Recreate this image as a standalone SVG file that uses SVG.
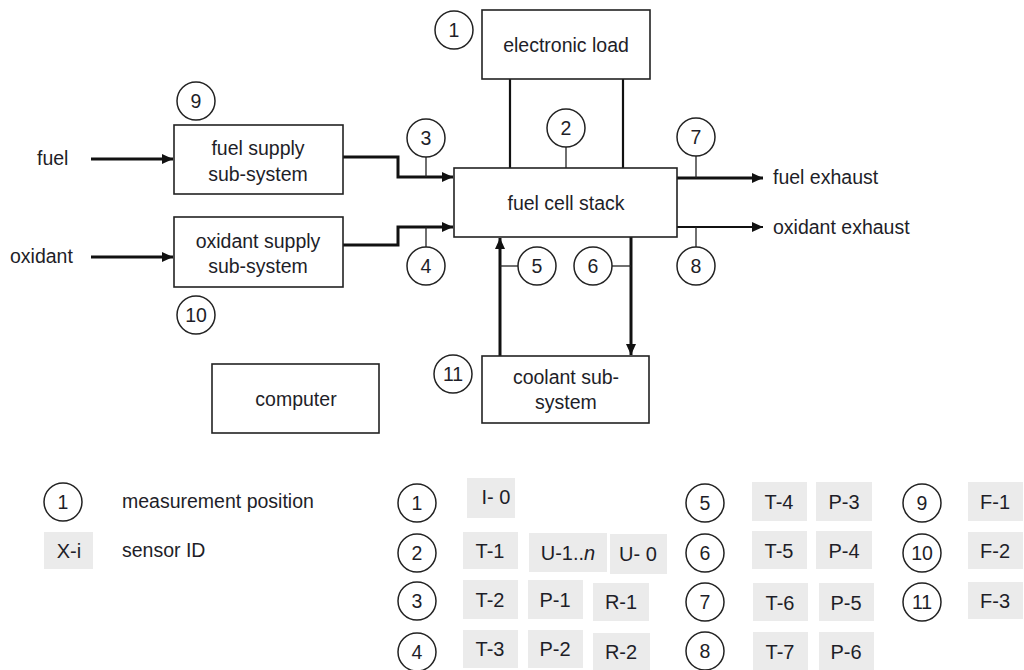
<svg xmlns="http://www.w3.org/2000/svg" width="1024" height="670" viewBox="0 0 1024 670">
<style>
text{font-family:"Liberation Sans",Arial,sans-serif;font-size:19.5px;fill:#1e1e28}
.box{fill:#fff;stroke:#222;stroke-width:1.6}
.c{fill:#fff;stroke:#222;stroke-width:1.5}
.n{font-size:19.5px;text-anchor:middle}
.m{text-anchor:middle}
.g{fill:#ebebeb;stroke:none}
.s{font-size:20px;text-anchor:middle}
.thick{fill:none;stroke:#111;stroke-width:3}
.med{fill:none;stroke:#111;stroke-width:2.2}
.thin{fill:none;stroke:#222;stroke-width:1.3}
</style>
<defs>
<marker id="ah" markerUnits="userSpaceOnUse" markerWidth="12" markerHeight="10" refX="11" refY="5" orient="auto">
<path d="M0,0 L11,5 L0,10 Z" fill="#111"/>
</marker>
</defs>
<g id="connectors">
<path class="thick" d="M91,159 H173" marker-end="url(#ah)"/>
<path class="thick" d="M91,257 H173" marker-end="url(#ah)"/>
<path class="thick" d="M343,157 H398 V177 H453" marker-end="url(#ah)"/>
<path class="thick" d="M343,245 H398 V227 H453" marker-end="url(#ah)"/>
<path class="med" d="M510,79 V168"/>
<path class="med" d="M623,79 V168"/>
<path class="thick" d="M677,178 H763" marker-end="url(#ah)"/>
<path class="med" d="M677,227 H763" marker-end="url(#ah)"/>
<path class="thick" d="M500,356 V238" marker-end="url(#ah)"/>
<path class="thick" d="M631,237 V355" marker-end="url(#ah)"/>
<path class="thin" d="M566,147 V168"/>
<path class="thin" d="M426,157 V177"/>
<path class="thin" d="M426,227 V247"/>
<path class="thin" d="M696,156 V178"/>
<path class="thin" d="M696,227 V247"/>
<path class="thin" d="M500,266 H518"/>
<path class="thin" d="M612,266 H631"/>
</g>
<g id="labels">
<text x="37" y="165">fuel</text>
<text x="10" y="263">oxidant</text>
<text x="773" y="184">fuel exhaust</text>
<text x="773" y="234">oxidant exhaust</text>
</g>
<g id="electronic-load"><rect class="box" x="482" y="10" width="168" height="69"/><text class="m" x="566" y="52">electronic load</text></g>
<g id="fuel-cell-stack"><rect class="box" x="454" y="168" width="223" height="69"/><text class="m" x="566" y="210">fuel cell stack</text></g>
<g id="fuel-supply"><rect class="box" x="174" y="125" width="169" height="69"/><text class="m" x="258" y="155">fuel supply</text><text class="m" x="258" y="181">sub-system</text></g>
<g id="oxidant-supply"><rect class="box" x="174" y="217" width="169" height="70"/><text class="m" x="258" y="248">oxidant supply</text><text class="m" x="258" y="273">sub-system</text></g>
<g id="coolant"><rect class="box" x="482" y="356" width="167" height="67"/><text class="m" x="566" y="384">coolant sub-</text><text class="m" x="566" y="409">system</text></g>
<g id="computer"><rect class="box" x="212" y="364" width="167" height="69"/><text class="m" x="296" y="406">computer</text></g>
<g id="positions">
<g id="p1"><circle class="c" cx="454" cy="30" r="19"/><text class="n" x="454" y="37">1</text></g>
<g id="p2"><circle class="c" cx="566" cy="128" r="19"/><text class="n" x="566" y="135">2</text></g>
<g id="p3"><circle class="c" cx="426" cy="138" r="19"/><text class="n" x="426" y="145">3</text></g>
<g id="p4"><circle class="c" cx="426" cy="266" r="19"/><text class="n" x="426" y="273">4</text></g>
<g id="p5"><circle class="c" cx="537" cy="266" r="19"/><text class="n" x="537" y="273">5</text></g>
<g id="p6"><circle class="c" cx="593" cy="266" r="19"/><text class="n" x="593" y="273">6</text></g>
<g id="p7"><circle class="c" cx="696" cy="137" r="19"/><text class="n" x="696" y="144">7</text></g>
<g id="p8"><circle class="c" cx="696" cy="266" r="19"/><text class="n" x="696" y="273">8</text></g>
<g id="p9"><circle class="c" cx="196" cy="101" r="19"/><text class="n" x="196" y="108">9</text></g>
<g id="p10"><circle class="c" cx="196" cy="315" r="19"/><text class="n" x="196" y="322">10</text></g>
<g id="p11"><circle class="c" cx="453" cy="374" r="19"/><text class="n" x="453" y="381">11</text></g>
</g>
<g id="legend">
<circle class="c" cx="63" cy="502" r="19"/><text class="n" x="63" y="509">1</text>
<text x="122" y="508">measurement position</text>
<rect class="g" x="44" y="532" width="49" height="37"/><text class="s" x="69" y="558">X-i</text>
<text x="122" y="557">sensor ID</text>

<circle class="c" cx="417" cy="503" r="19"/><text class="n" x="417" y="510">1</text>
<circle class="c" cx="417" cy="553" r="19"/><text class="n" x="417" y="560">2</text>
<circle class="c" cx="417" cy="601" r="19"/><text class="n" x="417" y="608">3</text>
<circle class="c" cx="417" cy="652" r="19"/><text class="n" x="417" y="659">4</text>
<rect class="g" x="467" y="478" width="48" height="40"/><text class="s" x="496" y="504">I- 0</text>
<rect class="g" x="463" y="532" width="55" height="37"/><text class="s" x="490" y="558">T-1</text>
<rect class="g" x="529" y="533" width="78" height="39"/><text class="s" x="568" y="560">U-1..<tspan font-style="italic">n</tspan></text>
<rect class="g" x="610" y="534" width="57" height="40"/><text class="s" x="638" y="561">U- 0</text>
<rect class="g" x="463" y="580" width="55" height="39"/><text class="s" x="490" y="607">T-2</text>
<rect class="g" x="528" y="580" width="55" height="39"/><text class="s" x="555" y="607">P-1</text>
<rect class="g" x="593" y="583" width="56" height="38"/><text class="s" x="621" y="609">R-1</text>
<rect class="g" x="463" y="630" width="55" height="38"/><text class="s" x="490" y="656">T-3</text>
<rect class="g" x="528" y="630" width="55" height="38"/><text class="s" x="555" y="656">P-2</text>
<rect class="g" x="593" y="633" width="57" height="37"/><text class="s" x="621" y="659">R-2</text>

<circle class="c" cx="705" cy="503" r="19"/><text class="n" x="705" y="510">5</text>
<circle class="c" cx="705" cy="553" r="19"/><text class="n" x="705" y="560">6</text>
<circle class="c" cx="705" cy="602" r="19"/><text class="n" x="705" y="609">7</text>
<circle class="c" cx="705" cy="651" r="19"/><text class="n" x="705" y="658">8</text>
<rect class="g" x="752" y="482" width="55" height="39"/><text class="s" x="779" y="509">T-4</text>
<rect class="g" x="816" y="482" width="56" height="39"/><text class="s" x="844" y="509">P-3</text>
<rect class="g" x="752" y="531" width="55" height="38"/><text class="s" x="779" y="558">T-5</text>
<rect class="g" x="816" y="531" width="56" height="38"/><text class="s" x="844" y="558">P-4</text>
<rect class="g" x="753" y="583" width="55" height="38"/><text class="s" x="780" y="610">T-6</text>
<rect class="g" x="819" y="583" width="55" height="38"/><text class="s" x="846" y="610">P-5</text>
<rect class="g" x="753" y="632" width="55" height="38"/><text class="s" x="780" y="659">T-7</text>
<rect class="g" x="819" y="632" width="55" height="38"/><text class="s" x="846" y="659">P-6</text>

<circle class="c" cx="922" cy="503" r="19"/><text class="n" x="922" y="510">9</text>
<circle class="c" cx="922" cy="553" r="19"/><text class="n" x="922" y="560">10</text>
<circle class="c" cx="922" cy="602" r="19"/><text class="n" x="922" y="609">11</text>
<rect class="g" x="968" y="482" width="55" height="39"/><text class="s" x="995" y="509">F-1</text>
<rect class="g" x="968" y="532" width="55" height="37"/><text class="s" x="995" y="558">F-2</text>
<rect class="g" x="968" y="582" width="55" height="37"/><text class="s" x="995" y="608">F-3</text>
</g>
</svg>
